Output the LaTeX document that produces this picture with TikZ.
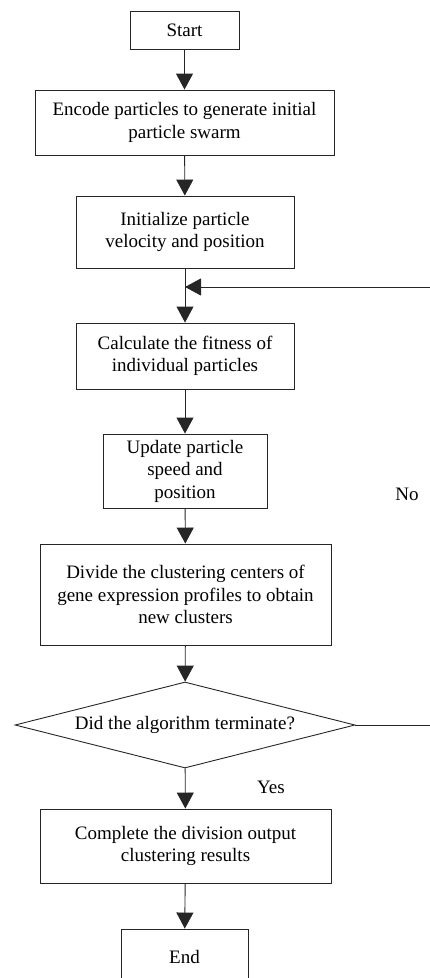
\documentclass[tikz,border=0pt]{standalone}
\usepackage{fontspec}
\setmainfont{Liberation Serif}
\usetikzlibrary{arrows.meta,shapes.geometric}
\begin{document}
\begin{tikzpicture}[x=1pt,y=-1pt,
  box/.style={draw=black!85,line width=0.9pt,rectangle,inner sep=0pt,align=center,
    font=\fontsize{19}{22.5}\selectfont},
  dec/.style={draw=black!85,line width=0.9pt,diamond,aspect=4,inner sep=0pt,
    minimum width=340pt,minimum height=86pt,font=\fontsize{19}{22.5}\selectfont},
  lbl/.style={inner sep=0pt,font=\fontsize{19}{22.5}\selectfont},
  arr/.style={draw=black!85,line width=0.9pt,-{Triangle[width=17pt,length=16pt]}},
  ln/.style={draw=black!85,line width=0.9pt}]
\useasboundingbox (0,0) rectangle (430,978);
\clip (0,0) rectangle (430,978);
\node[box,minimum width=109pt,minimum height=38pt] (start) at (184.5,30) {Start};
\node[box,minimum width=299pt,minimum height=65pt] (enc) at (184.5,122.5) {Encode particles to generate initial\\particle swarm};
\node[box,minimum width=218pt,minimum height=72pt] (init) at (185,232) {Initialize particle\\velocity and position};
\node[box,minimum width=218pt,minimum height=66pt] (calc) at (185,356) {Calculate the fitness of\\individual particles};
\node[box,minimum width=164pt,minimum height=74pt] (upd) at (185,471) {Update particle\\speed and\\position};
\node[box,minimum width=291pt,minimum height=101pt] (div) at (185.5,594.5) {Divide the clustering centers of\\gene expression profiles to obtain\\new clusters};
\node[dec] (term) at (185,725) {Did the algorithm terminate?};
\node[box,minimum width=291pt,minimum height=74pt] (comp) at (185.5,846) {Complete the division output\\clustering results};
\node[box,minimum width=127pt,minimum height=56pt] (end) at (184.5,957) {End};
\node[lbl] (no) at (407,494) {No};
\node[lbl] (yes) at (271,787) {Yes};
\coordinate (loopin) at (430,287);
\coordinate (join) at (185,287);
\coordinate (noout) at (430,725);
\draw[arr] (start) -- (enc);
\draw[arr] (enc) -- (init);
\draw[arr] (init) -- (calc);
\draw[arr] (loopin) -- (join);
\draw[arr] (calc) -- (upd);
\draw[arr] (upd) -- (div);
\draw[arr] (div) -- (term);
\draw[arr] (term) -- (comp);
\draw[arr] (comp) -- (end);
\draw[ln] (term.east) -- (noout);
\end{tikzpicture}
\end{document}
